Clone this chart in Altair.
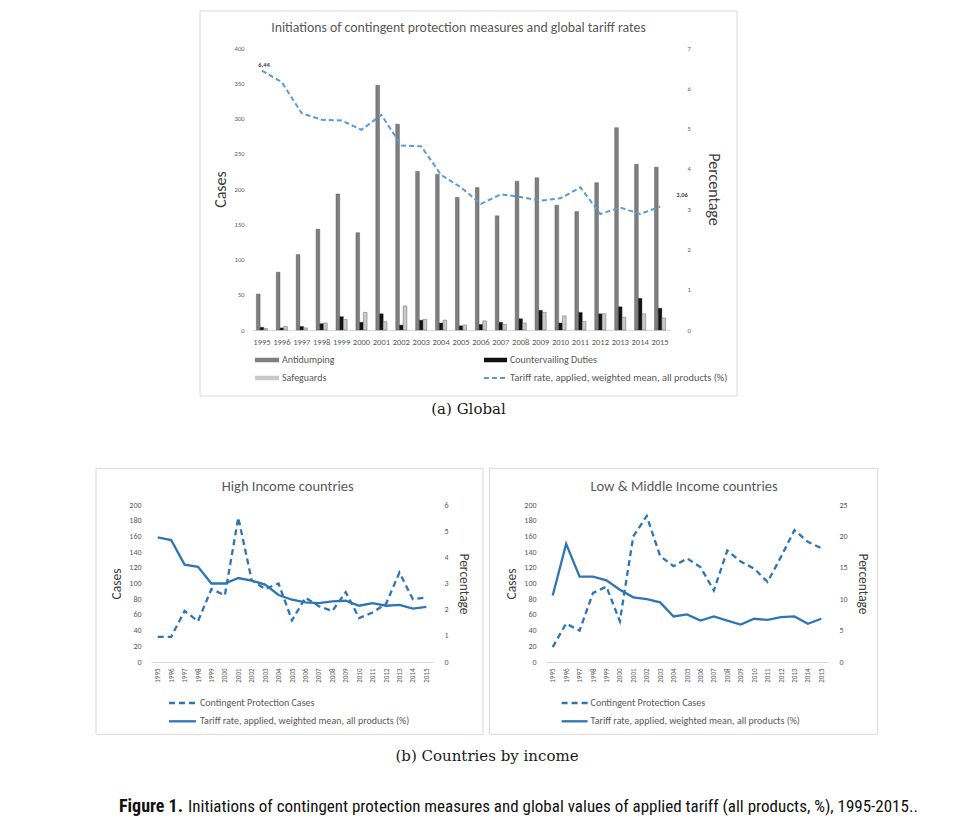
import altair as alt
import pandas as pd

# ---------------- data ----------------
years = ["1995", "1996", "1997", "1998", "1999", "2000", "2001", "2002", "2003", "2004",
         "2005", "2006", "2007", "2008", "2009", "2010", "2011", "2012", "2013", "2014", "2015"]
antidumping = [51, 82, 107, 143, 193, 138, 347, 292, 225, 221, 188, 202, 162, 211, 216, 177, 168, 209, 287, 235, 231]
countervailing = [4, 3, 5, 9, 19, 11, 23, 7, 14, 10, 6, 8, 11, 16, 28, 10, 25, 23, 33, 45, 31]
safeguards = [2, 5, 3, 10, 15, 25, 12, 34, 15, 14, 7, 13, 8, 10, 25, 20, 12, 23, 18, 23, 17]
global_tariff = [6.44, 6.15, 5.38, 5.22, 5.20, 4.97, 5.34, 4.58, 4.56, 3.85, 3.54, 3.13, 3.37, 3.30, 3.21,
                 3.27, 3.54, 2.88, 3.04, 2.88, 3.06]
high_cases = [32, 32, 65, 52, 93, 85, 184, 104, 93, 100, 53, 82, 71, 65, 89, 56, 63, 74, 114, 80, 82]
high_tariff = [4.76, 4.66, 3.72, 3.64, 3.00, 3.00, 3.21, 3.11, 2.96, 2.56, 2.38, 2.28, 2.25, 2.32, 2.34,
               2.15, 2.25, 2.15, 2.18, 2.04, 2.11]
low_cases = [19, 49, 40, 88, 96, 52, 160, 186, 135, 122, 132, 121, 91, 142, 128, 119, 102, 134, 168, 153, 145]
low_tariff = [10.6, 18.8, 13.6, 13.6, 13.0, 11.5, 10.3, 10.0, 9.5, 7.25, 7.57, 6.6, 7.25, 6.6, 5.97,
              6.88, 6.7, 7.14, 7.25, 6.08, 6.88]

measures = ["Antidumping", "Countervailing Duties", "Safeguards"]
measure_colors = ["#7f7f7f", "#111111", "#c9c9c9"]
tariff_label = "Tariff rate, applied, weighted mean, all products (%)"
cases_label = "Contingent Protection Cases"
top_title = "Initiations of contingent protection measures and global tariff rates"
high_title = "High Income countries"
low_title = "Low & Middle Income countries"
point_labels = {"1995": "6,44", "2015": "3,06"}
caption_a = "(a) Global"
caption_b = "(b) Countries by income"
fig_bold = "Figure 1."
fig_text = "Initiations of contingent protection measures and global values of applied tariff (all products, %), 1995-2015.."

SANS = "Carlito, Lato, 'Open Sans', sans-serif"
SERIF = "'DejaVu Serif', serif"
CAPFONT = "'Liberation Sans Narrow', 'Roboto Condensed', Roboto, sans-serif"
LABEL_C = "#595959"
TITLE_C = "#404040"
BORDER_C = "#d9d9d9"
BLUE_L = "#5b9bd5"
BLUE = "#2e75b6"

one = pd.DataFrame({"k": [0]})


def txt(label, x, y, size, color=LABEL_C, font=SANS, align="left", weight="normal"):
    return alt.Chart(pd.DataFrame({"label": [label]})).mark_text(
        align=align, baseline="middle", fontSize=size, color=color, font=font, fontWeight=weight
    ).encode(x=alt.value(x), y=alt.value(y), text="label:N")


def hrule(x1, x2, y, color, width, dash=None, opacity=1.0):
    kw = dict(color=color, strokeWidth=width, opacity=opacity)
    if dash:
        kw["strokeDash"] = dash
    return alt.Chart(one).mark_rule(**kw).encode(x=alt.value(x1), x2=alt.value(x2), y=alt.value(y))


def vspan(x, y1, y2):
    return alt.Chart(one).mark_rule(opacity=0, strokeWidth=1).encode(
        x=alt.value(x), y=alt.value(y1), y2=alt.value(y2))


def border(x1, x2, y1, y2):
    return alt.Chart(one).mark_rect(fillOpacity=0, stroke=BORDER_C, strokeWidth=1).encode(
        x=alt.value(x1), x2=alt.value(x2), y=alt.value(y1), y2=alt.value(y2))


# ---------------- top chart ----------------
W1, H1 = 418, 282
bars_df = pd.DataFrame({
    "year": years * 3,
    "measure": [m for m in measures for _ in years],
    "cases": antidumping + countervailing + safeguards,
})
tariff_df = pd.DataFrame({"year": years, "tariff": global_tariff})
lab_df = pd.DataFrame({"year": list(point_labels.keys()),
                       "tariff": [global_tariff[years.index(y)] for y in point_labels],
                       "label": list(point_labels.values())})

x_top = alt.X("year:N", sort=years, scale=alt.Scale(paddingInner=0.44, paddingOuter=0.22),
              axis=alt.Axis(title=None, labelAngle=0, labelFontSize=8.5, labelColor=LABEL_C, labelFont=SANS,
                            labelPadding=7, ticks=False, domainColor=BORDER_C, labelOverlap=False))

bars = alt.Chart(bars_df).mark_bar(strokeWidth=0.4, stroke="#4d4d4d").encode(
    x=x_top,
    xOffset=alt.XOffset("measure:N", sort=measures, scale=alt.Scale(domain=measures)),
    y=alt.Y("cases:Q", scale=alt.Scale(domain=[0, 400]),
            axis=alt.Axis(values=[0, 50, 100, 150, 200, 250, 300, 350, 400], title="Cases",
                          titleFontSize=16, titleFontWeight="normal", titleColor=TITLE_C, titleFont=SANS,
                          titlePadding=6, labelFontSize=6.5, labelColor=LABEL_C, labelFont=SANS,
                          labelPadding=8, domain=False, ticks=False, grid=False)),
    color=alt.Color("measure:N", scale=alt.Scale(domain=measures, range=measure_colors), legend=None),
)

tline = alt.Chart(tariff_df).mark_line(color=BLUE_L, strokeWidth=2, strokeDash=[5, 3]).encode(
    x=alt.X("year:N", sort=years),
    y=alt.Y("tariff:Q", scale=alt.Scale(domain=[0, 7]),
            axis=alt.Axis(orient="right", values=[0, 1, 2, 3, 4, 5, 6, 7], title="Percentage",
                          titleFontSize=16, titleFontWeight="normal", titleColor=TITLE_C, titleFont=SANS,
                          titlePadding=15, labelFontSize=6.5, labelColor=LABEL_C, labelFont=SANS,
                          labelPadding=17, domain=False, ticks=False, grid=False)),
)
lab1 = alt.Chart(lab_df).transform_filter(alt.datum.year == "1995").mark_text(
    fontSize=6.5, fontWeight="bold", color="#404040", font=SANS, dx=2, dy=-6).encode(
    x=alt.X("year:N", sort=years), y=alt.Y("tariff:Q"), text="label:N")
lab2 = alt.Chart(lab_df).transform_filter(alt.datum.year == "2015").mark_text(
    fontSize=6.5, fontWeight="bold", color="#404040", font=SANS, dx=22, dy=-12).encode(
    x=alt.X("year:N", sort=years), y=alt.Y("tariff:Q"), text="label:N")
right_part = alt.layer(tline, lab1, lab2)

top_decor = [
    border(-52, 485, -37, 348),
    txt(top_title, 206.5, -20, 13.8, color=LABEL_C, align="center"),
    hrule(3, 27, 312, measure_colors[0], 4.5),
    txt(measures[0], 30, 312, 10),
    hrule(232, 255, 312, measure_colors[1], 4.5),
    txt(measures[1], 258, 312, 10),
    hrule(3, 27, 330, measure_colors[2], 4.5),
    txt(measures[2], 30, 330, 10),
    hrule(232, 255, 330, BLUE_L, 2, dash=[5, 3]),
    txt(tariff_label, 258, 330, 10.4),
    txt(caption_a, 216.5, 361, 15, color="#1a1a1a", font=SERIF, align="center"),
    vspan(0, 0, 419),
]

top = alt.layer(bars, right_part, *top_decor).resolve_scale(y="independent").properties(width=W1, height=H1)

# spacer that shifts the global chart to the right of the lower panels
spacer = alt.Chart(one).mark_rule(opacity=0, strokeWidth=1).encode(
    x=alt.value(0), x2=alt.value(28), y=alt.value(0)).properties(width=28, height=10)
top_row = alt.hconcat(spacer, top, spacing=20)


# ---------------- income panels ----------------
W2, H2 = 282, 157


def panel(cases, tariff, rmax, rstep, title, bl, br, title_x, sw1, sw2, tx):
    df = pd.DataFrame({"year": years, "cases": cases, "tariff": tariff})
    xax = alt.X("year:N", sort=years, scale=alt.Scale(paddingInner=0, paddingOuter=0),
                axis=alt.Axis(title=None, labelAngle=-90, labelFontSize=7, labelColor=LABEL_C, labelFont=SANS,
                              labelPadding=6, ticks=False, domainColor=BORDER_C, labelOverlap=False))
    cl = alt.Chart(df).mark_line(color=BLUE, strokeWidth=2.3, strokeDash=[6, 4]).encode(
        x=xax,
        y=alt.Y("cases:Q", scale=alt.Scale(domain=[0, 200]),
                axis=alt.Axis(values=list(range(0, 201, 20)), title="Cases", titleFontSize=13.5,
                              titleFontWeight="normal", titleColor=TITLE_C, titleFont=SANS, titlePadding=5,
                              labelFontSize=8, labelColor=LABEL_C, labelFont=SANS, labelPadding=10,
                              domain=False, ticks=False, grid=False)))
    tl = alt.Chart(df).mark_line(color=BLUE, strokeWidth=2.3).encode(
        x=alt.X("year:N", sort=years),
        y=alt.Y("tariff:Q", scale=alt.Scale(domain=[0, rmax]),
                axis=alt.Axis(orient="right", values=list(range(0, rmax + 1, rstep)), title="Percentage",
                              titleFontSize=13.5, titleFontWeight="normal", titleColor=TITLE_C, titleFont=SANS,
                              titlePadding=8, labelFontSize=8, labelColor=LABEL_C, labelFont=SANS,
                              labelPadding=11, domain=False, ticks=False, grid=False)))
    decor = [
        border(bl, br, -36.7, 229.3),
        txt(title, title_x, -18.5, 14.5, color=LABEL_C, align="center"),
        hrule(sw1, sw2, 198, BLUE, 2.3, dash=[6, 4]),
        txt(cases_label, tx, 198, 10),
        hrule(sw1, sw2, 216.3, BLUE, 2.3),
        txt(tariff_label, tx, 216.3, 10),
    ]
    return alt.layer(cl, tl, *decor).resolve_scale(y="independent").properties(width=W2, height=H2)


left = panel(high_cases, high_tariff, 6, 1, high_title, -55, 332, 136.7, 18, 45, 49)
right = panel(low_cases, low_tariff, 25, 5, low_title, -56.4, 331.6, 138, 15.6, 41.6, 44.6)
bottom = alt.hconcat(left, right, spacing=5)

# ---------------- captions ----------------
captions = alt.layer(
    vspan(0, 0, 80),
    txt(caption_b, 336, 21, 15, color="#1a1a1a", font=SERIF, align="center"),
    txt(fig_bold, -32, 72, 18, color="#111111", font=CAPFONT, weight="bold"),
    txt(fig_text, 37, 72, 17, color="#111111", font=CAPFONT),
).properties(width=700, height=80)

chart = alt.vconcat(top_row, bottom, captions, spacing=0).properties(
    padding={"left": 87, "top": 2, "right": 0, "bottom": 0}
).configure_view(strokeWidth=0)

chart.save("out.html", embed_options={"renderer": "svg", "actions": False})
